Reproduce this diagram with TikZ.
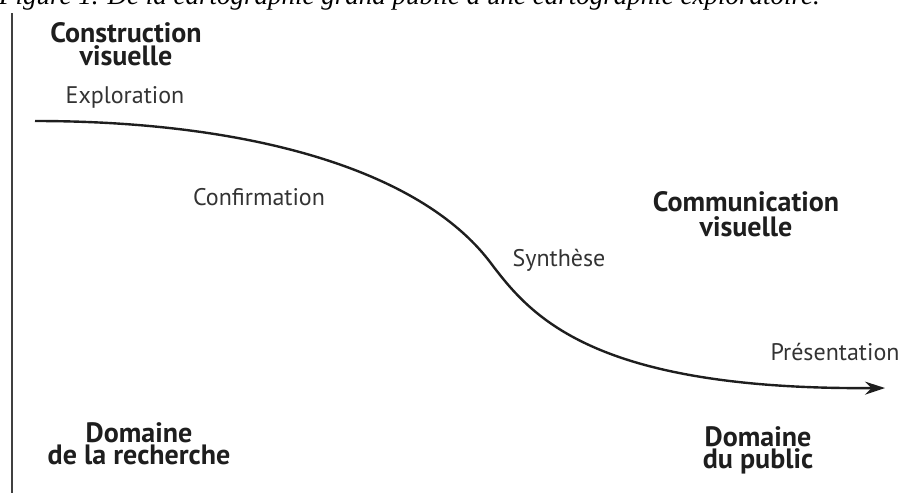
\documentclass[tikz,border=0pt]{standalone}
\usepackage{fontspec}
\setmainfont{PT Sans}
\newfontfamily\capfont{Liberation Serif}
\usetikzlibrary{arrows.meta}
\definecolor{ink}{HTML}{1E1E1E}
\definecolor{lbl}{HTML}{333333}
\tikzset{
  boldlbl/.style={font=\fontsize{28}{22}\selectfont\bfseries, text=ink, align=center, inner sep=0pt, anchor=base},
  stagelbl/.style={font=\fontsize{24}{26}\selectfont, text=lbl, inner sep=0pt, anchor=base},
  flow/.style={line width=2.4pt, draw=ink, -{Stealth[length=20pt,width=13pt]}},
  axisline/.style={line width=1.6pt, draw=ink!85},
}
\begin{document}
\begin{tikzpicture}[x=1pt,y=-1pt]
\useasboundingbox (0,0) rectangle (907,493);
\clip (0,0) rectangle (907,493);
\node[anchor=base west, inner sep=0pt, font=\fontsize{27}{30}\selectfont\capfont\itshape, text=black] (cap) at (-1,4) {Figure 1. De la cartographie grand public à une cartographie exploratoire.};
\coordinate (axtop) at (12,13);
\coordinate (axbot) at (12,493);
\draw[axisline] (axtop) -- (axbot);
\node[boldlbl] (cv) at (126,65) {Construction\\[1pt]visuelle};
\node[stagelbl] (expl) at (125,103) {Exploration};
\node[stagelbl] (conf) at (259,205) {Confirmation};
\node[boldlbl] (comv) at (746,236) {Communication\\[3pt]visuelle};
\node[stagelbl] (synt) at (559,266) {Synthèse};
\node[stagelbl] (pres) at (835,360) {Présentation};
\node[boldlbl] (dpub) at (758,468) {Domaine\\du public};
\node[boldlbl] (drech) at (139,464) {Domaine\\de la recherche};
\coordinate (cstart) at (35,121);
\coordinate (cmid) at (490,262);
\coordinate (cend) at (885,388);
\draw[flow] (cstart) .. controls (250,121) and (420,170) .. (cmid)
  .. controls (530,315) and (590,390) .. (cend);
\end{tikzpicture}
\end{document}
